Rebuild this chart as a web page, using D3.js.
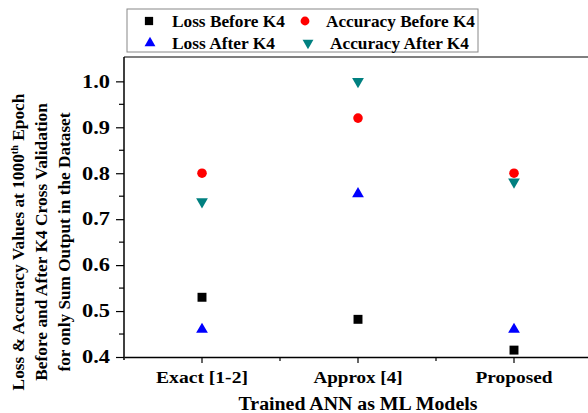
<!DOCTYPE html>
<html>
<head>
<meta charset="utf-8">
<script src="https://cdn.jsdelivr.net/npm/d3@7"></script>
<style>
  body { margin: 0; background: #fff; }
  text { font-family: "Liberation Serif", "Times New Roman", serif; font-weight: bold; }
</style>
</head>
<body>
<div id="chart"></div>
<script>
// data
const models = ["Exact [1-2]", "Approx [4]", "Proposed"];
const lossBefore = [0.53, 0.482, 0.415];
const accBefore = [0.80, 0.92, 0.80];
const lossAfter = [0.46, 0.755, 0.46];
const accAfter = [0.738, 1.0, 0.781];
const yTicks = [0.4, 0.5, 0.6, 0.7, 0.8, 0.9, 1.0];

const series = [
  { name: "Loss Before K4", values: lossBefore, color: "#000000", shape: d3.symbolSquare, size: 80, rot: 0 },
  { name: "Accuracy Before K4", values: accBefore, color: "#ff0000", shape: d3.symbolCircle, size: 72, rot: 0 },
  { name: "Loss After K4", values: lossAfter, color: "#0000ff", shape: d3.symbolTriangle, size: 60, rot: 0 },
  { name: "Accuracy After K4", values: accAfter, color: "#008080", shape: d3.symbolTriangle, size: 60, rot: 180 }
];

const width = 588, height = 413;
const margin = { top: 57, left: 124, bottom: 56 };
const plotBottom = height - margin.bottom;

// stretch text sideways to the width measured on the picture
function stretch(sel, w) {
  const node = sel.node();
  const k = w / node.getComputedTextLength();
  const ax = +sel.attr("x") || 0;
  sel.attr("transform", `translate(${ax},0) scale(${k},1) translate(${-ax},0)`);
}

const svg = d3.select("#chart").append("svg")
  .attr("width", width)
  .attr("height", height);

// SCALES
const x = d3.scaleBand()
  .domain(models)
  .range([margin.left, margin.left + 3 * 156])
  .padding(0);

const y = d3.scaleLinear()
  .domain([0.4, 1.053])
  .range([plotBottom, margin.top]);

// top frame line
svg.append("line")
  .attr("x1", margin.left).attr("x2", width)
  .attr("y1", margin.top).attr("y2", margin.top)
  .attr("stroke", "#555").attr("stroke-width", 1.5);

// Y AXIS
const yAxis = svg.append("g")
  .attr("transform", `translate(${margin.left},0)`)
  .call(d3.axisLeft(y).tickValues(yTicks).tickFormat(d3.format(".1f")).tickSize(8).tickPadding(6));
yAxis.select(".domain").attr("stroke-width", 1.5).attr("d", `M0,${plotBottom + 3}V${margin.top}`);
yAxis.selectAll(".tick line").attr("stroke-width", 1.2);
yAxis.selectAll(".tick text").style("font-size", "18px").attr("fill", "#000")
  .each(function () { stretch(d3.select(this), 28); });
// minor ticks
svg.append("g").selectAll("line")
  .data(yTicks.slice(0, -1).map(d => d + 0.05))
  .enter().append("line")
  .attr("x1", margin.left - 5).attr("x2", margin.left)
  .attr("y1", d => y(d)).attr("y2", d => y(d))
  .attr("stroke", "#000").attr("stroke-width", 1.2);

// X AXIS
const catWidths = [92, 89, 77];
const xAxis = svg.append("g")
  .attr("transform", `translate(0,${plotBottom})`)
  .call(d3.axisBottom(x).tickSize(6).tickPadding(8).tickSizeOuter(0));
xAxis.select(".domain").attr("stroke-width", 1.5);
xAxis.selectAll(".tick line").attr("stroke-width", 1.2);
xAxis.selectAll(".tick text")
  .style("font-size", "17px").attr("fill", "#000")
  .each(function (d, i) { stretch(d3.select(this), catWidths[i]); });
// minor ticks at band edges
svg.append("g").selectAll("line")
  .data(models.slice(1))
  .enter().append("line")
  .attr("x1", d => x(d)).attr("x2", d => x(d))
  .attr("y1", plotBottom).attr("y2", plotBottom + 4)
  .attr("stroke", "#000").attr("stroke-width", 1.2);

// MARKERS
series.forEach(s => {
  svg.append("g").selectAll("path")
    .data(s.values)
    .enter().append("path")
    .attr("d", d3.symbol().type(s.shape).size(s.size))
    .attr("transform", (d, i) => `translate(${x(models[i]) + x.bandwidth() / 2},${y(d)}) rotate(${s.rot})`)
    .attr("fill", s.color);
});

// LEGEND
const legend = svg.append("g");
legend.append("rect")
  .attr("x", 127).attr("y", 9).attr("width", 351).attr("height", 43)
  .attr("fill", "#fff").attr("stroke", "#888").attr("stroke-width", 1);
const legPos = [[149, 21, 172, 113], [305, 21, 326, 149], [150, 43, 172, 103], [308, 43, 330, 139]];
series.forEach((s, i) => {
  const [sx, sy, tx, tw] = legPos[i];
  legend.append("path")
    .attr("d", d3.symbol().type(s.shape).size(s.size * 0.85))
    .attr("transform", `translate(${sx},${sy}) rotate(${s.rot})`)
    .attr("fill", s.color);
  legend.append("text")
    .attr("x", tx).attr("y", sy + 6)
    .style("font-size", "17.5px")
    .text(s.name)
    .call(stretch, tw);
});

// AXIS TITLES
svg.append("text")
  .attr("x", x.range()[0] + (x.range()[1] - x.range()[0]) / 2)
  .attr("y", 410)
  .attr("text-anchor", "middle")
  .style("font-size", "19px")
  .text("Trained ANN as ML Models")
  .call(stretch, 239);

const yTitle = svg.append("g").attr("transform", "translate(0,242) rotate(-90)");
const l1 = yTitle.append("text").attr("x", 0).attr("y", 24)
  .attr("text-anchor", "middle").style("font-size", "17px");
l1.append("tspan").text("Loss & Accuracy Values at 1000");
l1.append("tspan").attr("dy", -6).style("font-size", "10px").text("th");
l1.append("tspan").attr("dy", 6).text(" Epoch");
l1.call(stretch, 297);
yTitle.append("text").attr("x", 0).attr("y", 47)
  .attr("text-anchor", "middle").style("font-size", "17px")
  .text("Before and After K4  Cross Validation")
  .call(stretch, 278);
yTitle.append("text").attr("x", 0).attr("y", 70)
  .attr("text-anchor", "middle").style("font-size", "17px")
  .text("for only Sum Output in the Dataset")
  .call(stretch, 259);
</script>
</body>
</html>
